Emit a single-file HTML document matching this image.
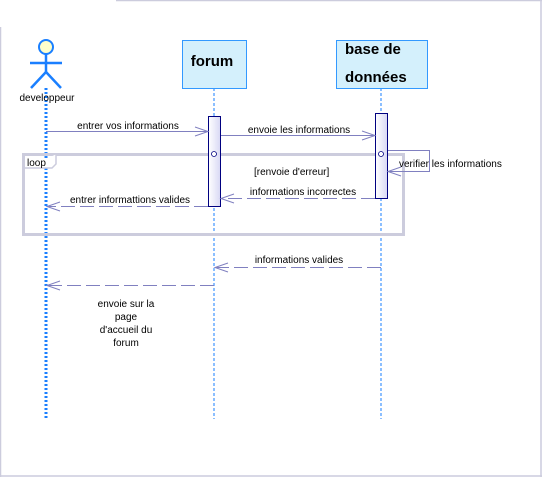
<!DOCTYPE html>
<html><head><meta charset="utf-8"><style>
html,body{margin:0;padding:0;background:#fff;width:542px;height:477px;overflow:hidden}
svg text{font-family:"Liberation Sans",sans-serif;font-size:10px;fill:#000}
</style></head><body>
<svg width="542" height="477" xmlns="http://www.w3.org/2000/svg">
<defs>
<linearGradient id="ag" x1="0" x2="1"><stop offset="0" stop-color="#fff"/><stop offset="1" stop-color="#d8d8f4"/></linearGradient>
</defs>
<!-- frame -->
<line x1="116" y1="0.5" x2="542" y2="0.5" stroke="#ccccdd" stroke-width="1.5"/>
<line x1="541" y1="0" x2="541" y2="477" stroke="#ccccdd" stroke-width="1.5"/>
<line x1="0.5" y1="27" x2="0.5" y2="477" stroke="#ccccdd" stroke-width="1.5"/>
<line x1="0" y1="476" x2="542" y2="476" stroke="#ccccdd" stroke-width="1.5"/>
<!-- lifelines -->
<line x1="46" y1="88" x2="46" y2="419" stroke="#1a7fff" stroke-width="3" stroke-dasharray="2,2"/>
<line x1="214" y1="88" x2="214" y2="419" stroke="#1a7fff" stroke-width="1" stroke-dasharray="3,2"/>
<line x1="381" y1="88" x2="381" y2="419" stroke="#1a7fff" stroke-width="1" stroke-dasharray="3,2"/>
<!-- actor -->
<circle cx="46" cy="47" r="7" fill="#ffffcc" stroke="#1a7fff" stroke-width="2"/>
<g stroke="#1a7fff" stroke-width="2.5" fill="none">
<line x1="30" y1="63" x2="62" y2="63"/><line x1="46" y1="54" x2="46" y2="72"/>
<polyline points="31,88 46,72 61,88"/></g>
<text x="47" y="101" text-anchor="middle">developpeur</text>
<!-- boxes -->
<rect x="182.5" y="40.5" width="64" height="48" fill="#d4f0fc" stroke="#3399ff"/>
<text x="212" y="66" text-anchor="middle" style="font-size:15px;font-weight:bold">forum</text>
<rect x="336.5" y="40.5" width="91" height="48" fill="#d4f0fc" stroke="#3399ff"/>
<text x="345" y="54" style="font-size:15px;font-weight:bold">base de</text>
<text x="345" y="82" style="font-size:15px;font-weight:bold">données</text>
<!-- loop -->
<rect x="23.5" y="154.5" width="380" height="80" fill="none" stroke="#ccccdd" stroke-width="3"/>
<polyline points="23.5,168 52,168 56,164 56,154.5" fill="#fff" stroke="#ccccdd" stroke-width="1.5"/>
<text x="27" y="166">loop</text>
<!-- activations -->
<rect x="208.5" y="116.5" width="12" height="90" fill="url(#ag)" stroke="#000080"/>
<rect x="375.5" y="113.5" width="12" height="85" fill="url(#ag)" stroke="#000080"/>
<circle cx="214" cy="154" r="2.5" fill="#fff" stroke="#000080" stroke-width="0.8"/>
<circle cx="381" cy="154" r="2.5" fill="#fff" stroke="#000080" stroke-width="0.8"/>
<g stroke="#8080c0" stroke-width="1" fill="none">
<line x1="46" y1="131.5" x2="208" y2="131.5"/><polyline points="195,127 208,131.5 195,136"/>
<line x1="221" y1="135.5" x2="375" y2="135.5"/><polyline points="362,131 375,135.5 362,140"/>
<polyline points="388,150.5 429.5,150.5 429.5,171.5 388,171.5"/><polyline points="401,167 388,171.5 401,176"/>
<line x1="375" y1="198.5" x2="221" y2="198.5" stroke-dasharray="14,5"/><polyline points="234,194 221,198.5 234,203"/>
<line x1="208" y1="206.5" x2="47" y2="206.5" stroke-dasharray="14,5"/><polyline points="60,202 47,206.5 60,211"/>
<line x1="381" y1="267.5" x2="215" y2="267.5" stroke-dasharray="14,5"/><polyline points="228,263 215,267.5 228,272"/>
<line x1="214" y1="285.5" x2="47" y2="285.5" stroke-dasharray="14,5"/><polyline points="60,281 47,285.5 60,290"/>
</g>
<text x="128" y="129" text-anchor="middle">entrer vos informations</text>
<text x="299" y="133" text-anchor="middle">envoie les informations</text>
<text x="399" y="167">verifier les informations</text>
<text x="254" y="175">[renvoie d'erreur]</text>
<text x="303" y="195" text-anchor="middle">informations incorrectes</text>
<text x="130" y="203" text-anchor="middle">entrer informattions valides</text>
<text x="299" y="263" text-anchor="middle">informations valides</text>
<text x="126" y="307" text-anchor="middle">envoie sur la</text>
<text x="126" y="320" text-anchor="middle">page</text>
<text x="126" y="333" text-anchor="middle">d'accueil du</text>
<text x="126" y="346" text-anchor="middle">forum</text>
</svg>
</body></html>
